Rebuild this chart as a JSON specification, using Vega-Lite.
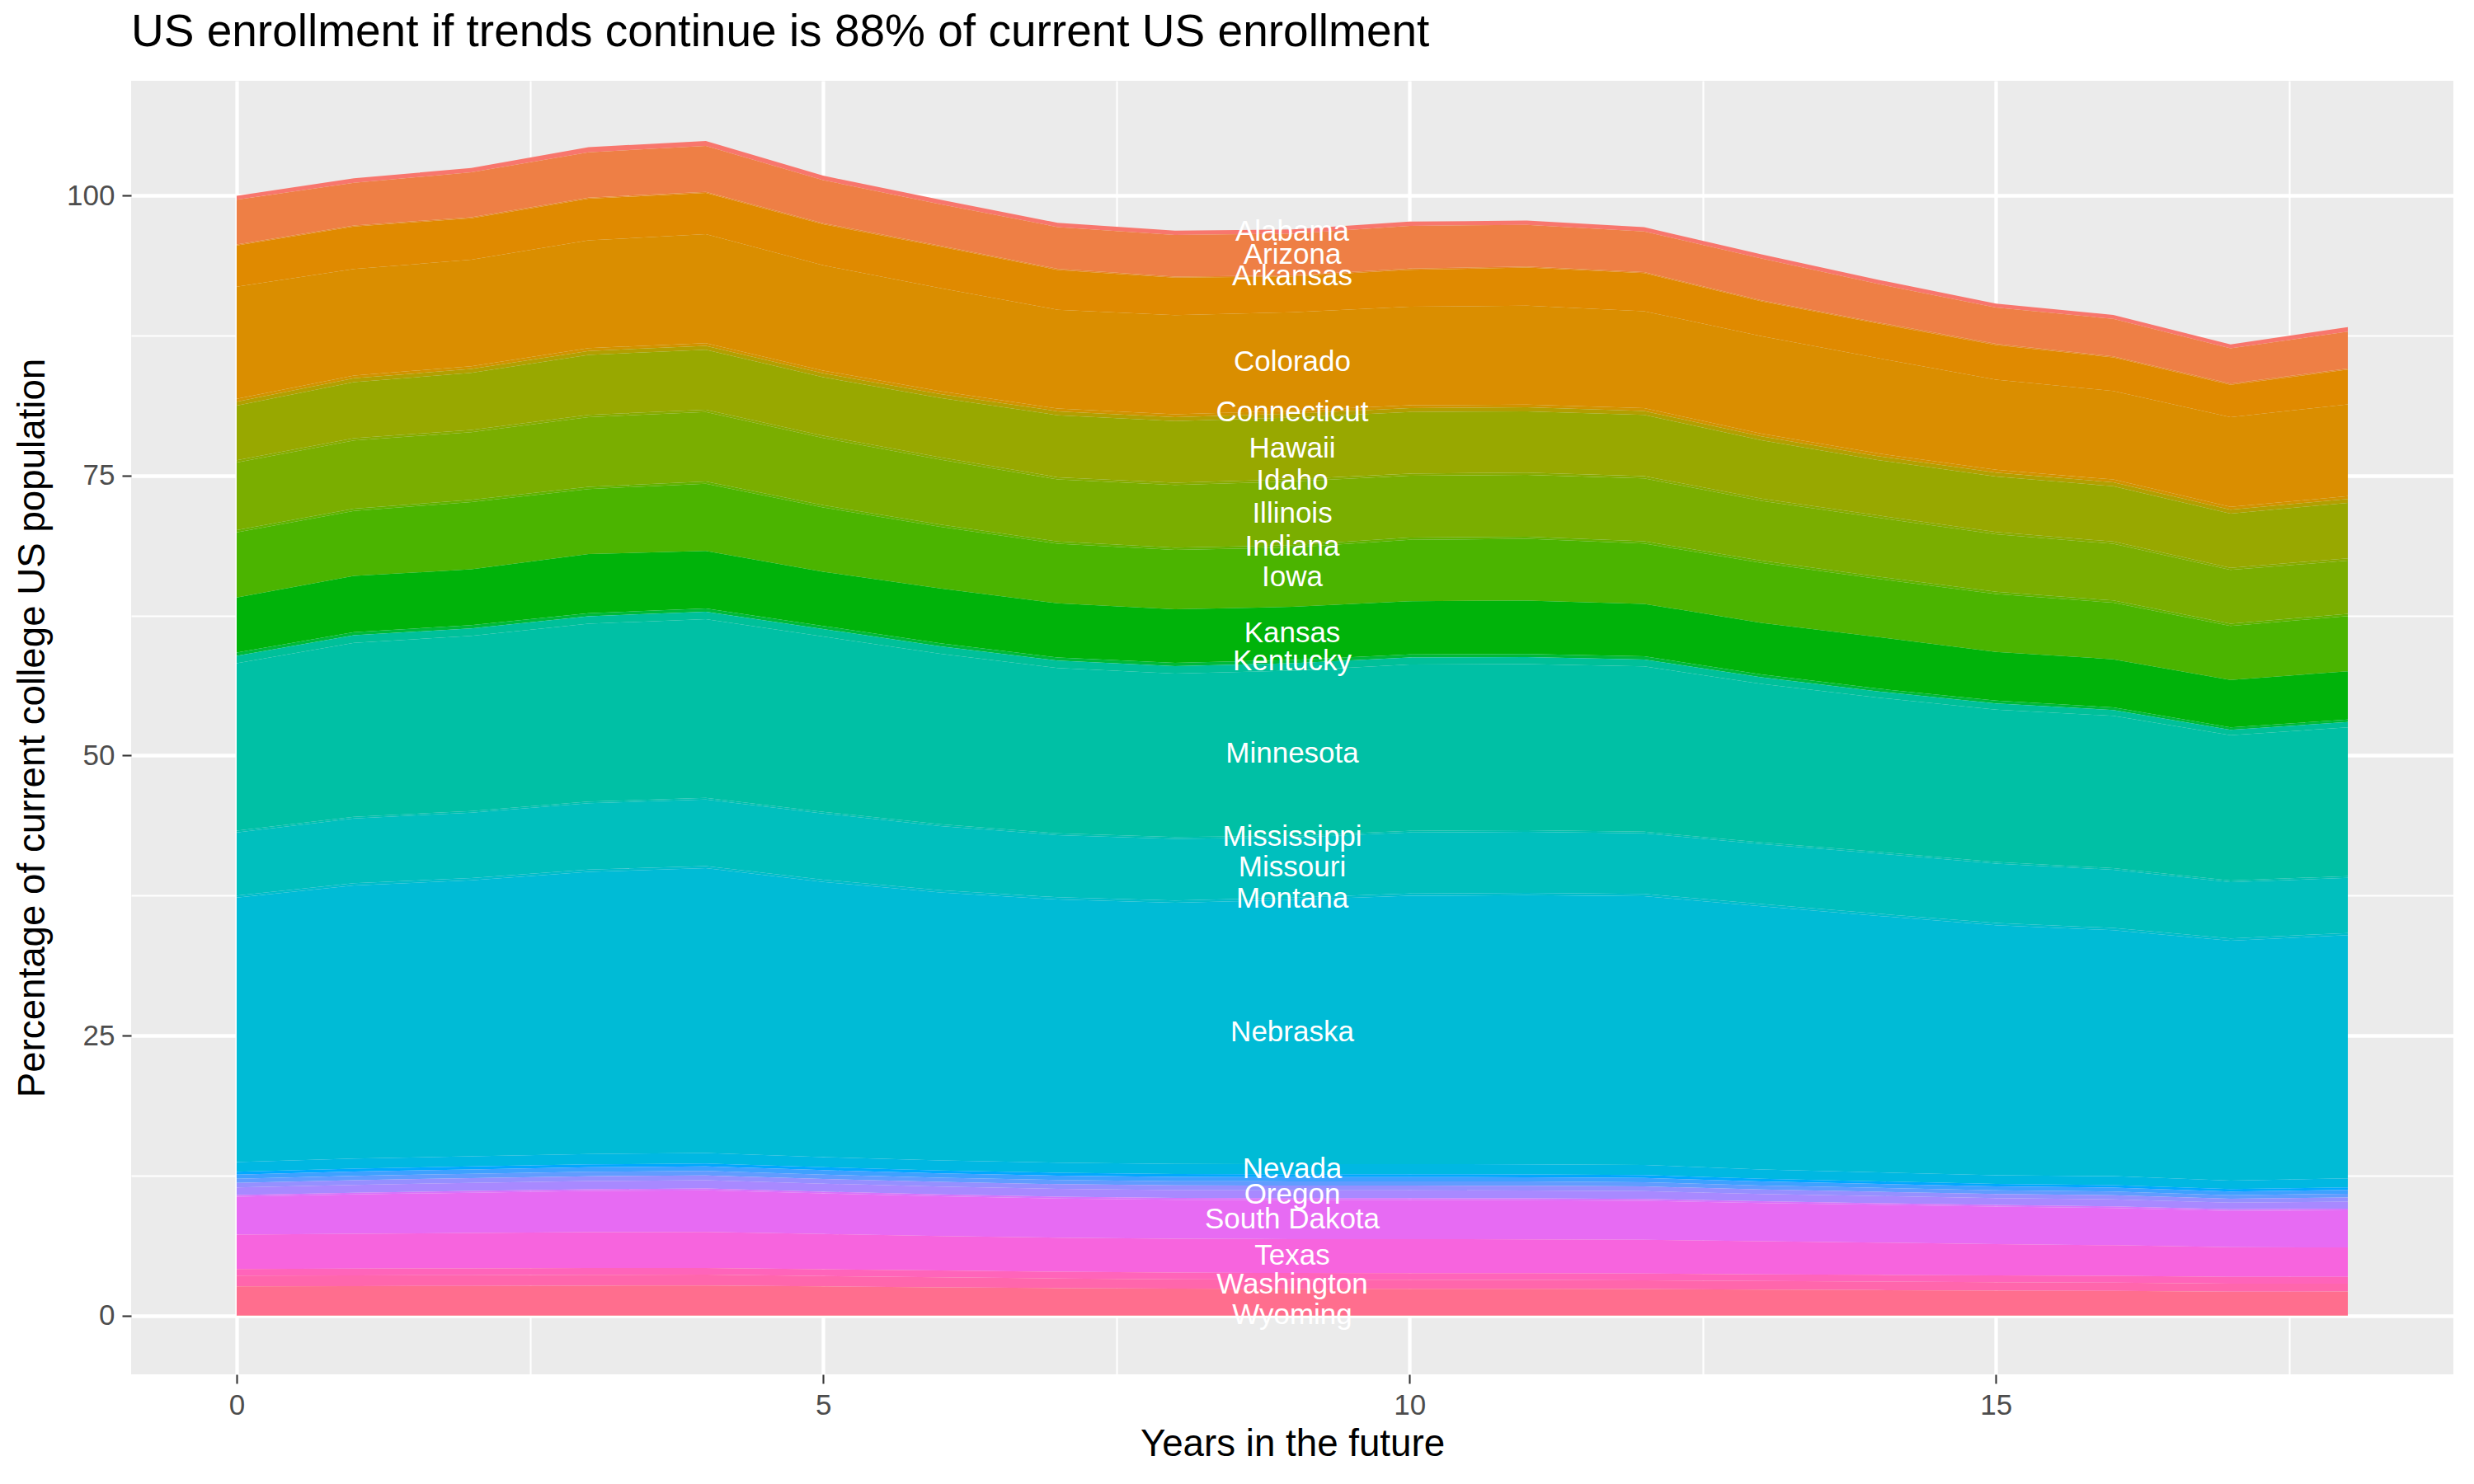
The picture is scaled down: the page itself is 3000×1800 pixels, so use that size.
{
  "$schema": "https://vega.github.io/schema/vega-lite/v6.json",
  "width": 2816,
  "height": 1569,
  "autosize": {"type": "none"},
  "padding": {"left": 159, "top": 98, "right": 25, "bottom": 133},
  "background": "#FFFFFF",
  "config": {
    "view": {"fill": "#EBEBEB", "stroke": null},
    "font": "Liberation Sans",
    "axis": {
      "domain": false,
      "gridColor": "#FFFFFF",
      "tickColor": "#333333",
      "tickSize": 11,
      "tickWidth": 2.1,
      "labelColor": "#4D4D4D",
      "labelFont": "Liberation Sans",
      "labelFontSize": 35,
      "labelPadding": 9,
      "titleFont": "Liberation Sans",
      "titleFontSize": 45.7,
      "titleFontWeight": "normal",
      "titleColor": "#000000"
    }
  },
  "title": {
    "text": "US enrollment if trends continue is 88% of current US enrollment",
    "anchor": "start",
    "frame": "group",
    "font": "Liberation Sans",
    "fontSize": 55,
    "fontWeight": "normal",
    "color": "#000000",
    "baseline": "alphabetic",
    "offset": -13
  },
  "data": {
    "values": [
      {"state": "Alabama", "year": 0, "pct": 0.35}, {"state": "Alabama", "year": 1, "pct": 0.4}, {"state": "Alabama", "year": 2, "pct": 0.4}, {"state": "Alabama", "year": 3, "pct": 0.45}, {"state": "Alabama", "year": 4, "pct": 0.45}, {"state": "Alabama", "year": 5, "pct": 0.4}, {"state": "Alabama", "year": 6, "pct": 0.4}, {"state": "Alabama", "year": 7, "pct": 0.38}, {"state": "Alabama", "year": 8, "pct": 0.38}, {"state": "Alabama", "year": 9, "pct": 0.38}, {"state": "Alabama", "year": 10, "pct": 0.38}, {"state": "Alabama", "year": 11, "pct": 0.38}, {"state": "Alabama", "year": 12, "pct": 0.38}, {"state": "Alabama", "year": 13, "pct": 0.37}, {"state": "Alabama", "year": 14, "pct": 0.37}, {"state": "Alabama", "year": 15, "pct": 0.36}, {"state": "Alabama", "year": 16, "pct": 0.36}, {"state": "Alabama", "year": 17, "pct": 0.35}, {"state": "Alabama", "year": 18, "pct": 0.4},
      {"state": "Arizona", "year": 0, "pct": 4.0}, {"state": "Arizona", "year": 1, "pct": 3.8}, {"state": "Arizona", "year": 2, "pct": 4.0}, {"state": "Arizona", "year": 3, "pct": 4.05}, {"state": "Arizona", "year": 4, "pct": 4.1}, {"state": "Arizona", "year": 5, "pct": 3.84}, {"state": "Arizona", "year": 6, "pct": 3.7}, {"state": "Arizona", "year": 7, "pct": 3.73}, {"state": "Arizona", "year": 8, "pct": 3.72}, {"state": "Arizona", "year": 9, "pct": 3.72}, {"state": "Arizona", "year": 10, "pct": 3.82}, {"state": "Arizona", "year": 11, "pct": 3.72}, {"state": "Arizona", "year": 12, "pct": 3.62}, {"state": "Arizona", "year": 13, "pct": 3.73}, {"state": "Arizona", "year": 14, "pct": 3.43}, {"state": "Arizona", "year": 15, "pct": 3.24}, {"state": "Arizona", "year": 16, "pct": 3.34}, {"state": "Arizona", "year": 17, "pct": 3.15}, {"state": "Arizona", "year": 18, "pct": 3.3},
      {"state": "Arkansas", "year": 0, "pct": 0.1}, {"state": "Arkansas", "year": 1, "pct": 0.1}, {"state": "Arkansas", "year": 2, "pct": 0.1}, {"state": "Arkansas", "year": 3, "pct": 0.1}, {"state": "Arkansas", "year": 4, "pct": 0.1}, {"state": "Arkansas", "year": 5, "pct": 0.1}, {"state": "Arkansas", "year": 6, "pct": 0.1}, {"state": "Arkansas", "year": 7, "pct": 0.1}, {"state": "Arkansas", "year": 8, "pct": 0.1}, {"state": "Arkansas", "year": 9, "pct": 0.1}, {"state": "Arkansas", "year": 10, "pct": 0.1}, {"state": "Arkansas", "year": 11, "pct": 0.1}, {"state": "Arkansas", "year": 12, "pct": 0.1}, {"state": "Arkansas", "year": 13, "pct": 0.1}, {"state": "Arkansas", "year": 14, "pct": 0.1}, {"state": "Arkansas", "year": 15, "pct": 0.1}, {"state": "Arkansas", "year": 16, "pct": 0.1}, {"state": "Arkansas", "year": 17, "pct": 0.1}, {"state": "Arkansas", "year": 18, "pct": 0.1},
      {"state": "California", "year": 0, "pct": 3.67}, {"state": "California", "year": 1, "pct": 3.8}, {"state": "California", "year": 2, "pct": 3.7}, {"state": "California", "year": 3, "pct": 3.72}, {"state": "California", "year": 4, "pct": 3.68}, {"state": "California", "year": 5, "pct": 3.66}, {"state": "California", "year": 6, "pct": 3.7}, {"state": "California", "year": 7, "pct": 3.55}, {"state": "California", "year": 8, "pct": 3.35}, {"state": "California", "year": 9, "pct": 3.2}, {"state": "California", "year": 10, "pct": 3.3}, {"state": "California", "year": 11, "pct": 3.4}, {"state": "California", "year": 12, "pct": 3.4}, {"state": "California", "year": 13, "pct": 3.1}, {"state": "California", "year": 14, "pct": 3.1}, {"state": "California", "year": 15, "pct": 3.1}, {"state": "California", "year": 16, "pct": 3.0}, {"state": "California", "year": 17, "pct": 2.9}, {"state": "California", "year": 18, "pct": 3.1},
      {"state": "Colorado", "year": 0, "pct": 10.02}, {"state": "Colorado", "year": 1, "pct": 9.5}, {"state": "Colorado", "year": 2, "pct": 9.5}, {"state": "Colorado", "year": 3, "pct": 9.62}, {"state": "Colorado", "year": 4, "pct": 9.72}, {"state": "Colorado", "year": 5, "pct": 9.4}, {"state": "Colorado", "year": 6, "pct": 9.2}, {"state": "Colorado", "year": 7, "pct": 8.82}, {"state": "Colorado", "year": 8, "pct": 8.85}, {"state": "Colorado", "year": 9, "pct": 8.8}, {"state": "Colorado", "year": 10, "pct": 8.8}, {"state": "Colorado", "year": 11, "pct": 8.83}, {"state": "Colorado", "year": 12, "pct": 8.66}, {"state": "Colorado", "year": 13, "pct": 8.7}, {"state": "Colorado", "year": 14, "pct": 8.5}, {"state": "Colorado", "year": 15, "pct": 8.04}, {"state": "Colorado", "year": 16, "pct": 7.9}, {"state": "Colorado", "year": 17, "pct": 8.0}, {"state": "Colorado", "year": 18, "pct": 8.2},
      {"state": "Connecticut", "year": 0, "pct": 0.25}, {"state": "Connecticut", "year": 1, "pct": 0.25}, {"state": "Connecticut", "year": 2, "pct": 0.25}, {"state": "Connecticut", "year": 3, "pct": 0.25}, {"state": "Connecticut", "year": 4, "pct": 0.25}, {"state": "Connecticut", "year": 5, "pct": 0.25}, {"state": "Connecticut", "year": 6, "pct": 0.25}, {"state": "Connecticut", "year": 7, "pct": 0.25}, {"state": "Connecticut", "year": 8, "pct": 0.25}, {"state": "Connecticut", "year": 9, "pct": 0.25}, {"state": "Connecticut", "year": 10, "pct": 0.25}, {"state": "Connecticut", "year": 11, "pct": 0.25}, {"state": "Connecticut", "year": 12, "pct": 0.25}, {"state": "Connecticut", "year": 13, "pct": 0.25}, {"state": "Connecticut", "year": 14, "pct": 0.25}, {"state": "Connecticut", "year": 15, "pct": 0.25}, {"state": "Connecticut", "year": 16, "pct": 0.25}, {"state": "Connecticut", "year": 17, "pct": 0.25}, {"state": "Connecticut", "year": 18, "pct": 0.25},
      {"state": "Florida", "year": 0, "pct": 0.35}, {"state": "Florida", "year": 1, "pct": 0.35}, {"state": "Florida", "year": 2, "pct": 0.35}, {"state": "Florida", "year": 3, "pct": 0.35}, {"state": "Florida", "year": 4, "pct": 0.35}, {"state": "Florida", "year": 5, "pct": 0.35}, {"state": "Florida", "year": 6, "pct": 0.35}, {"state": "Florida", "year": 7, "pct": 0.35}, {"state": "Florida", "year": 8, "pct": 0.35}, {"state": "Florida", "year": 9, "pct": 0.35}, {"state": "Florida", "year": 10, "pct": 0.35}, {"state": "Florida", "year": 11, "pct": 0.35}, {"state": "Florida", "year": 12, "pct": 0.35}, {"state": "Florida", "year": 13, "pct": 0.35}, {"state": "Florida", "year": 14, "pct": 0.35}, {"state": "Florida", "year": 15, "pct": 0.35}, {"state": "Florida", "year": 16, "pct": 0.35}, {"state": "Florida", "year": 17, "pct": 0.35}, {"state": "Florida", "year": 18, "pct": 0.35},
      {"state": "Hawaii", "year": 0, "pct": 4.88}, {"state": "Hawaii", "year": 1, "pct": 5.0}, {"state": "Hawaii", "year": 2, "pct": 5.1}, {"state": "Hawaii", "year": 3, "pct": 5.36}, {"state": "Hawaii", "year": 4, "pct": 5.35}, {"state": "Hawaii", "year": 5, "pct": 5.22}, {"state": "Hawaii", "year": 6, "pct": 5.3}, {"state": "Hawaii", "year": 7, "pct": 5.54}, {"state": "Hawaii", "year": 8, "pct": 5.5}, {"state": "Hawaii", "year": 9, "pct": 5.5}, {"state": "Hawaii", "year": 10, "pct": 5.5}, {"state": "Hawaii", "year": 11, "pct": 5.47}, {"state": "Hawaii", "year": 12, "pct": 5.47}, {"state": "Hawaii", "year": 13, "pct": 5.2}, {"state": "Hawaii", "year": 14, "pct": 4.94}, {"state": "Hawaii", "year": 15, "pct": 4.96}, {"state": "Hawaii", "year": 16, "pct": 4.94}, {"state": "Hawaii", "year": 17, "pct": 4.84}, {"state": "Hawaii", "year": 18, "pct": 4.95},
      {"state": "Idaho", "year": 0, "pct": 0.2}, {"state": "Idaho", "year": 1, "pct": 0.2}, {"state": "Idaho", "year": 2, "pct": 0.2}, {"state": "Idaho", "year": 3, "pct": 0.2}, {"state": "Idaho", "year": 4, "pct": 0.2}, {"state": "Idaho", "year": 5, "pct": 0.2}, {"state": "Idaho", "year": 6, "pct": 0.2}, {"state": "Idaho", "year": 7, "pct": 0.2}, {"state": "Idaho", "year": 8, "pct": 0.2}, {"state": "Idaho", "year": 9, "pct": 0.2}, {"state": "Idaho", "year": 10, "pct": 0.2}, {"state": "Idaho", "year": 11, "pct": 0.2}, {"state": "Idaho", "year": 12, "pct": 0.2}, {"state": "Idaho", "year": 13, "pct": 0.2}, {"state": "Idaho", "year": 14, "pct": 0.2}, {"state": "Idaho", "year": 15, "pct": 0.2}, {"state": "Idaho", "year": 16, "pct": 0.2}, {"state": "Idaho", "year": 17, "pct": 0.2}, {"state": "Idaho", "year": 18, "pct": 0.2},
      {"state": "Illinois", "year": 0, "pct": 6.04}, {"state": "Illinois", "year": 1, "pct": 6.1}, {"state": "Illinois", "year": 2, "pct": 6.03}, {"state": "Illinois", "year": 3, "pct": 6.22}, {"state": "Illinois", "year": 4, "pct": 6.2}, {"state": "Illinois", "year": 5, "pct": 6.01}, {"state": "Illinois", "year": 6, "pct": 5.8}, {"state": "Illinois", "year": 7, "pct": 5.54}, {"state": "Illinois", "year": 8, "pct": 5.6}, {"state": "Illinois", "year": 9, "pct": 5.7}, {"state": "Illinois", "year": 10, "pct": 5.51}, {"state": "Illinois", "year": 11, "pct": 5.52}, {"state": "Illinois", "year": 12, "pct": 5.61}, {"state": "Illinois", "year": 13, "pct": 5.35}, {"state": "Illinois", "year": 14, "pct": 5.26}, {"state": "Illinois", "year": 15, "pct": 5.14}, {"state": "Illinois", "year": 16, "pct": 5.06}, {"state": "Illinois", "year": 17, "pct": 4.79}, {"state": "Illinois", "year": 18, "pct": 4.76},
      {"state": "Indiana", "year": 0, "pct": 0.2}, {"state": "Indiana", "year": 1, "pct": 0.2}, {"state": "Indiana", "year": 2, "pct": 0.2}, {"state": "Indiana", "year": 3, "pct": 0.2}, {"state": "Indiana", "year": 4, "pct": 0.2}, {"state": "Indiana", "year": 5, "pct": 0.2}, {"state": "Indiana", "year": 6, "pct": 0.2}, {"state": "Indiana", "year": 7, "pct": 0.2}, {"state": "Indiana", "year": 8, "pct": 0.2}, {"state": "Indiana", "year": 9, "pct": 0.2}, {"state": "Indiana", "year": 10, "pct": 0.2}, {"state": "Indiana", "year": 11, "pct": 0.2}, {"state": "Indiana", "year": 12, "pct": 0.2}, {"state": "Indiana", "year": 13, "pct": 0.2}, {"state": "Indiana", "year": 14, "pct": 0.2}, {"state": "Indiana", "year": 15, "pct": 0.2}, {"state": "Indiana", "year": 16, "pct": 0.2}, {"state": "Indiana", "year": 17, "pct": 0.2}, {"state": "Indiana", "year": 18, "pct": 0.2},
      {"state": "Iowa", "year": 0, "pct": 5.81}, {"state": "Iowa", "year": 1, "pct": 5.8}, {"state": "Iowa", "year": 2, "pct": 6.01}, {"state": "Iowa", "year": 3, "pct": 5.81}, {"state": "Iowa", "year": 4, "pct": 6.0}, {"state": "Iowa", "year": 5, "pct": 5.74}, {"state": "Iowa", "year": 6, "pct": 5.5}, {"state": "Iowa", "year": 7, "pct": 5.32}, {"state": "Iowa", "year": 8, "pct": 5.31}, {"state": "Iowa", "year": 9, "pct": 5.3}, {"state": "Iowa", "year": 10, "pct": 5.49}, {"state": "Iowa", "year": 11, "pct": 5.51}, {"state": "Iowa", "year": 12, "pct": 5.39}, {"state": "Iowa", "year": 13, "pct": 5.35}, {"state": "Iowa", "year": 14, "pct": 5.2}, {"state": "Iowa", "year": 15, "pct": 5.16}, {"state": "Iowa", "year": 16, "pct": 5.05}, {"state": "Iowa", "year": 17, "pct": 4.82}, {"state": "Iowa", "year": 18, "pct": 4.92},
      {"state": "Kansas", "year": 0, "pct": 4.93}, {"state": "Kansas", "year": 1, "pct": 5.02}, {"state": "Kansas", "year": 2, "pct": 4.99}, {"state": "Kansas", "year": 3, "pct": 5.27}, {"state": "Kansas", "year": 4, "pct": 5.15}, {"state": "Kansas", "year": 5, "pct": 4.83}, {"state": "Kansas", "year": 6, "pct": 4.9}, {"state": "Kansas", "year": 7, "pct": 4.83}, {"state": "Kansas", "year": 8, "pct": 4.79}, {"state": "Kansas", "year": 9, "pct": 4.75}, {"state": "Kansas", "year": 10, "pct": 4.75}, {"state": "Kansas", "year": 11, "pct": 4.77}, {"state": "Kansas", "year": 12, "pct": 4.69}, {"state": "Kansas", "year": 13, "pct": 4.6}, {"state": "Kansas", "year": 14, "pct": 4.6}, {"state": "Kansas", "year": 15, "pct": 4.35}, {"state": "Kansas", "year": 16, "pct": 4.3}, {"state": "Kansas", "year": 17, "pct": 4.25}, {"state": "Kansas", "year": 18, "pct": 4.31},
      {"state": "Kentucky", "year": 0, "pct": 0.28}, {"state": "Kentucky", "year": 1, "pct": 0.28}, {"state": "Kentucky", "year": 2, "pct": 0.28}, {"state": "Kentucky", "year": 3, "pct": 0.28}, {"state": "Kentucky", "year": 4, "pct": 0.28}, {"state": "Kentucky", "year": 5, "pct": 0.28}, {"state": "Kentucky", "year": 6, "pct": 0.28}, {"state": "Kentucky", "year": 7, "pct": 0.28}, {"state": "Kentucky", "year": 8, "pct": 0.28}, {"state": "Kentucky", "year": 9, "pct": 0.28}, {"state": "Kentucky", "year": 10, "pct": 0.28}, {"state": "Kentucky", "year": 11, "pct": 0.28}, {"state": "Kentucky", "year": 12, "pct": 0.28}, {"state": "Kentucky", "year": 13, "pct": 0.26}, {"state": "Kentucky", "year": 14, "pct": 0.25}, {"state": "Kentucky", "year": 15, "pct": 0.25}, {"state": "Kentucky", "year": 16, "pct": 0.23}, {"state": "Kentucky", "year": 17, "pct": 0.22}, {"state": "Kentucky", "year": 18, "pct": 0.22},
      {"state": "Michigan", "year": 0, "pct": 0.67}, {"state": "Michigan", "year": 1, "pct": 0.67}, {"state": "Michigan", "year": 2, "pct": 0.67}, {"state": "Michigan", "year": 3, "pct": 0.67}, {"state": "Michigan", "year": 4, "pct": 0.67}, {"state": "Michigan", "year": 5, "pct": 0.67}, {"state": "Michigan", "year": 6, "pct": 0.67}, {"state": "Michigan", "year": 7, "pct": 0.67}, {"state": "Michigan", "year": 8, "pct": 0.67}, {"state": "Michigan", "year": 9, "pct": 0.67}, {"state": "Michigan", "year": 10, "pct": 0.62}, {"state": "Michigan", "year": 11, "pct": 0.62}, {"state": "Michigan", "year": 12, "pct": 0.62}, {"state": "Michigan", "year": 13, "pct": 0.59}, {"state": "Michigan", "year": 14, "pct": 0.55}, {"state": "Michigan", "year": 15, "pct": 0.55}, {"state": "Michigan", "year": 16, "pct": 0.52}, {"state": "Michigan", "year": 17, "pct": 0.48}, {"state": "Michigan", "year": 18, "pct": 0.48},
      {"state": "Minnesota", "year": 0, "pct": 14.95}, {"state": "Minnesota", "year": 1, "pct": 15.53}, {"state": "Minnesota", "year": 2, "pct": 15.64}, {"state": "Minnesota", "year": 3, "pct": 15.88}, {"state": "Minnesota", "year": 4, "pct": 15.95}, {"state": "Minnesota", "year": 5, "pct": 15.65}, {"state": "Minnesota", "year": 6, "pct": 15.22}, {"state": "Minnesota", "year": 7, "pct": 14.76}, {"state": "Minnesota", "year": 8, "pct": 14.6}, {"state": "Minnesota", "year": 9, "pct": 14.75}, {"state": "Minnesota", "year": 10, "pct": 14.85}, {"state": "Minnesota", "year": 11, "pct": 14.83}, {"state": "Minnesota", "year": 12, "pct": 14.76}, {"state": "Minnesota", "year": 13, "pct": 14.15}, {"state": "Minnesota", "year": 14, "pct": 13.77}, {"state": "Minnesota", "year": 15, "pct": 13.6}, {"state": "Minnesota", "year": 16, "pct": 13.6}, {"state": "Minnesota", "year": 17, "pct": 12.96}, {"state": "Minnesota", "year": 18, "pct": 13.29},
      {"state": "Mississippi", "year": 0, "pct": 0.15}, {"state": "Mississippi", "year": 1, "pct": 0.15}, {"state": "Mississippi", "year": 2, "pct": 0.15}, {"state": "Mississippi", "year": 3, "pct": 0.15}, {"state": "Mississippi", "year": 4, "pct": 0.15}, {"state": "Mississippi", "year": 5, "pct": 0.15}, {"state": "Mississippi", "year": 6, "pct": 0.15}, {"state": "Mississippi", "year": 7, "pct": 0.15}, {"state": "Mississippi", "year": 8, "pct": 0.15}, {"state": "Mississippi", "year": 9, "pct": 0.15}, {"state": "Mississippi", "year": 10, "pct": 0.15}, {"state": "Mississippi", "year": 11, "pct": 0.15}, {"state": "Mississippi", "year": 12, "pct": 0.15}, {"state": "Mississippi", "year": 13, "pct": 0.15}, {"state": "Mississippi", "year": 14, "pct": 0.15}, {"state": "Mississippi", "year": 15, "pct": 0.15}, {"state": "Mississippi", "year": 16, "pct": 0.15}, {"state": "Mississippi", "year": 17, "pct": 0.15}, {"state": "Mississippi", "year": 18, "pct": 0.15},
      {"state": "Missouri", "year": 0, "pct": 5.63}, {"state": "Missouri", "year": 1, "pct": 5.79}, {"state": "Missouri", "year": 2, "pct": 5.83}, {"state": "Missouri", "year": 3, "pct": 5.92}, {"state": "Missouri", "year": 4, "pct": 5.94}, {"state": "Missouri", "year": 5, "pct": 5.91}, {"state": "Missouri", "year": 6, "pct": 5.73}, {"state": "Missouri", "year": 7, "pct": 5.55}, {"state": "Missouri", "year": 8, "pct": 5.51}, {"state": "Missouri", "year": 9, "pct": 5.36}, {"state": "Missouri", "year": 10, "pct": 5.45}, {"state": "Missouri", "year": 11, "pct": 5.45}, {"state": "Missouri", "year": 12, "pct": 5.41}, {"state": "Missouri", "year": 13, "pct": 5.35}, {"state": "Missouri", "year": 14, "pct": 5.37}, {"state": "Missouri", "year": 15, "pct": 5.31}, {"state": "Missouri", "year": 16, "pct": 5.19}, {"state": "Missouri", "year": 17, "pct": 5.02}, {"state": "Missouri", "year": 18, "pct": 4.92},
      {"state": "Montana", "year": 0, "pct": 0.2}, {"state": "Montana", "year": 1, "pct": 0.2}, {"state": "Montana", "year": 2, "pct": 0.2}, {"state": "Montana", "year": 3, "pct": 0.2}, {"state": "Montana", "year": 4, "pct": 0.2}, {"state": "Montana", "year": 5, "pct": 0.2}, {"state": "Montana", "year": 6, "pct": 0.2}, {"state": "Montana", "year": 7, "pct": 0.2}, {"state": "Montana", "year": 8, "pct": 0.2}, {"state": "Montana", "year": 9, "pct": 0.2}, {"state": "Montana", "year": 10, "pct": 0.2}, {"state": "Montana", "year": 11, "pct": 0.2}, {"state": "Montana", "year": 12, "pct": 0.2}, {"state": "Montana", "year": 13, "pct": 0.2}, {"state": "Montana", "year": 14, "pct": 0.2}, {"state": "Montana", "year": 15, "pct": 0.2}, {"state": "Montana", "year": 16, "pct": 0.2}, {"state": "Montana", "year": 17, "pct": 0.2}, {"state": "Montana", "year": 18, "pct": 0.2},
      {"state": "Nebraska", "year": 0, "pct": 23.6}, {"state": "Nebraska", "year": 1, "pct": 24.39}, {"state": "Nebraska", "year": 2, "pct": 24.65}, {"state": "Nebraska", "year": 3, "pct": 25.2}, {"state": "Nebraska", "year": 4, "pct": 25.42}, {"state": "Nebraska", "year": 5, "pct": 24.57}, {"state": "Nebraska", "year": 6, "pct": 23.93}, {"state": "Nebraska", "year": 7, "pct": 23.5}, {"state": "Nebraska", "year": 8, "pct": 23.32}, {"state": "Nebraska", "year": 9, "pct": 23.6}, {"state": "Nebraska", "year": 10, "pct": 23.96}, {"state": "Nebraska", "year": 11, "pct": 24.03}, {"state": "Nebraska", "year": 12, "pct": 23.99}, {"state": "Nebraska", "year": 13, "pct": 23.5}, {"state": "Nebraska", "year": 14, "pct": 22.89}, {"state": "Nebraska", "year": 15, "pct": 22.32}, {"state": "Nebraska", "year": 16, "pct": 21.96}, {"state": "Nebraska", "year": 17, "pct": 21.43}, {"state": "Nebraska", "year": 18, "pct": 21.71},
      {"state": "Nevada", "year": 0, "pct": 0.87}, {"state": "Nevada", "year": 1, "pct": 0.9}, {"state": "Nevada", "year": 2, "pct": 0.91}, {"state": "Nevada", "year": 3, "pct": 0.92}, {"state": "Nevada", "year": 4, "pct": 0.94}, {"state": "Nevada", "year": 5, "pct": 0.91}, {"state": "Nevada", "year": 6, "pct": 0.9}, {"state": "Nevada", "year": 7, "pct": 0.9}, {"state": "Nevada", "year": 8, "pct": 0.9}, {"state": "Nevada", "year": 9, "pct": 0.9}, {"state": "Nevada", "year": 10, "pct": 0.9}, {"state": "Nevada", "year": 11, "pct": 0.9}, {"state": "Nevada", "year": 12, "pct": 0.9}, {"state": "Nevada", "year": 13, "pct": 0.84}, {"state": "Nevada", "year": 14, "pct": 0.81}, {"state": "Nevada", "year": 15, "pct": 0.78}, {"state": "Nevada", "year": 16, "pct": 0.8}, {"state": "Nevada", "year": 17, "pct": 0.76}, {"state": "Nevada", "year": 18, "pct": 0.8},
      {"state": "New York", "year": 0, "pct": 0.25}, {"state": "New York", "year": 1, "pct": 0.26}, {"state": "New York", "year": 2, "pct": 0.26}, {"state": "New York", "year": 3, "pct": 0.26}, {"state": "New York", "year": 4, "pct": 0.27}, {"state": "New York", "year": 5, "pct": 0.26}, {"state": "New York", "year": 6, "pct": 0.26}, {"state": "New York", "year": 7, "pct": 0.26}, {"state": "New York", "year": 8, "pct": 0.26}, {"state": "New York", "year": 9, "pct": 0.26}, {"state": "New York", "year": 10, "pct": 0.26}, {"state": "New York", "year": 11, "pct": 0.26}, {"state": "New York", "year": 12, "pct": 0.26}, {"state": "New York", "year": 13, "pct": 0.24}, {"state": "New York", "year": 14, "pct": 0.23}, {"state": "New York", "year": 15, "pct": 0.22}, {"state": "New York", "year": 16, "pct": 0.23}, {"state": "New York", "year": 17, "pct": 0.22}, {"state": "New York", "year": 18, "pct": 0.23},
      {"state": "North Carolina", "year": 0, "pct": 0.37}, {"state": "North Carolina", "year": 1, "pct": 0.38}, {"state": "North Carolina", "year": 2, "pct": 0.39}, {"state": "North Carolina", "year": 3, "pct": 0.4}, {"state": "North Carolina", "year": 4, "pct": 0.4}, {"state": "North Carolina", "year": 5, "pct": 0.39}, {"state": "North Carolina", "year": 6, "pct": 0.38}, {"state": "North Carolina", "year": 7, "pct": 0.38}, {"state": "North Carolina", "year": 8, "pct": 0.38}, {"state": "North Carolina", "year": 9, "pct": 0.38}, {"state": "North Carolina", "year": 10, "pct": 0.38}, {"state": "North Carolina", "year": 11, "pct": 0.38}, {"state": "North Carolina", "year": 12, "pct": 0.38}, {"state": "North Carolina", "year": 13, "pct": 0.36}, {"state": "North Carolina", "year": 14, "pct": 0.35}, {"state": "North Carolina", "year": 15, "pct": 0.34}, {"state": "North Carolina", "year": 16, "pct": 0.34}, {"state": "North Carolina", "year": 17, "pct": 0.32}, {"state": "North Carolina", "year": 18, "pct": 0.34},
      {"state": "North Dakota", "year": 0, "pct": 0.37}, {"state": "North Dakota", "year": 1, "pct": 0.38}, {"state": "North Dakota", "year": 2, "pct": 0.39}, {"state": "North Dakota", "year": 3, "pct": 0.4}, {"state": "North Dakota", "year": 4, "pct": 0.4}, {"state": "North Dakota", "year": 5, "pct": 0.39}, {"state": "North Dakota", "year": 6, "pct": 0.38}, {"state": "North Dakota", "year": 7, "pct": 0.38}, {"state": "North Dakota", "year": 8, "pct": 0.38}, {"state": "North Dakota", "year": 9, "pct": 0.38}, {"state": "North Dakota", "year": 10, "pct": 0.38}, {"state": "North Dakota", "year": 11, "pct": 0.38}, {"state": "North Dakota", "year": 12, "pct": 0.38}, {"state": "North Dakota", "year": 13, "pct": 0.36}, {"state": "North Dakota", "year": 14, "pct": 0.35}, {"state": "North Dakota", "year": 15, "pct": 0.34}, {"state": "North Dakota", "year": 16, "pct": 0.34}, {"state": "North Dakota", "year": 17, "pct": 0.32}, {"state": "North Dakota", "year": 18, "pct": 0.34},
      {"state": "Oklahoma", "year": 0, "pct": 0.4}, {"state": "Oklahoma", "year": 1, "pct": 0.42}, {"state": "Oklahoma", "year": 2, "pct": 0.42}, {"state": "Oklahoma", "year": 3, "pct": 0.43}, {"state": "Oklahoma", "year": 4, "pct": 0.43}, {"state": "Oklahoma", "year": 5, "pct": 0.42}, {"state": "Oklahoma", "year": 6, "pct": 0.42}, {"state": "Oklahoma", "year": 7, "pct": 0.42}, {"state": "Oklahoma", "year": 8, "pct": 0.42}, {"state": "Oklahoma", "year": 9, "pct": 0.42}, {"state": "Oklahoma", "year": 10, "pct": 0.42}, {"state": "Oklahoma", "year": 11, "pct": 0.42}, {"state": "Oklahoma", "year": 12, "pct": 0.42}, {"state": "Oklahoma", "year": 13, "pct": 0.39}, {"state": "Oklahoma", "year": 14, "pct": 0.38}, {"state": "Oklahoma", "year": 15, "pct": 0.36}, {"state": "Oklahoma", "year": 16, "pct": 0.37}, {"state": "Oklahoma", "year": 17, "pct": 0.35}, {"state": "Oklahoma", "year": 18, "pct": 0.37},
      {"state": "Oregon", "year": 0, "pct": 0.68}, {"state": "Oregon", "year": 1, "pct": 0.7}, {"state": "Oregon", "year": 2, "pct": 0.72}, {"state": "Oregon", "year": 3, "pct": 0.73}, {"state": "Oregon", "year": 4, "pct": 0.73}, {"state": "Oregon", "year": 5, "pct": 0.72}, {"state": "Oregon", "year": 6, "pct": 0.7}, {"state": "Oregon", "year": 7, "pct": 0.7}, {"state": "Oregon", "year": 8, "pct": 0.7}, {"state": "Oregon", "year": 9, "pct": 0.7}, {"state": "Oregon", "year": 10, "pct": 0.7}, {"state": "Oregon", "year": 11, "pct": 0.7}, {"state": "Oregon", "year": 12, "pct": 0.7}, {"state": "Oregon", "year": 13, "pct": 0.66}, {"state": "Oregon", "year": 14, "pct": 0.64}, {"state": "Oregon", "year": 15, "pct": 0.62}, {"state": "Oregon", "year": 16, "pct": 0.63}, {"state": "Oregon", "year": 17, "pct": 0.59}, {"state": "Oregon", "year": 18, "pct": 0.63},
      {"state": "South Carolina", "year": 0, "pct": 0.16}, {"state": "South Carolina", "year": 1, "pct": 0.16}, {"state": "South Carolina", "year": 2, "pct": 0.16}, {"state": "South Carolina", "year": 3, "pct": 0.16}, {"state": "South Carolina", "year": 4, "pct": 0.17}, {"state": "South Carolina", "year": 5, "pct": 0.16}, {"state": "South Carolina", "year": 6, "pct": 0.16}, {"state": "South Carolina", "year": 7, "pct": 0.16}, {"state": "South Carolina", "year": 8, "pct": 0.16}, {"state": "South Carolina", "year": 9, "pct": 0.16}, {"state": "South Carolina", "year": 10, "pct": 0.16}, {"state": "South Carolina", "year": 11, "pct": 0.16}, {"state": "South Carolina", "year": 12, "pct": 0.16}, {"state": "South Carolina", "year": 13, "pct": 0.15}, {"state": "South Carolina", "year": 14, "pct": 0.14}, {"state": "South Carolina", "year": 15, "pct": 0.14}, {"state": "South Carolina", "year": 16, "pct": 0.14}, {"state": "South Carolina", "year": 17, "pct": 0.14}, {"state": "South Carolina", "year": 18, "pct": 0.14},
      {"state": "South Dakota", "year": 0, "pct": 3.39}, {"state": "South Dakota", "year": 1, "pct": 3.5}, {"state": "South Dakota", "year": 2, "pct": 3.6}, {"state": "South Dakota", "year": 3, "pct": 3.68}, {"state": "South Dakota", "year": 4, "pct": 3.72}, {"state": "South Dakota", "year": 5, "pct": 3.62}, {"state": "South Dakota", "year": 6, "pct": 3.55}, {"state": "South Dakota", "year": 7, "pct": 3.5}, {"state": "South Dakota", "year": 8, "pct": 3.48}, {"state": "South Dakota", "year": 9, "pct": 3.49}, {"state": "South Dakota", "year": 10, "pct": 3.5}, {"state": "South Dakota", "year": 11, "pct": 3.5}, {"state": "South Dakota", "year": 12, "pct": 3.48}, {"state": "South Dakota", "year": 13, "pct": 3.42}, {"state": "South Dakota", "year": 14, "pct": 3.38}, {"state": "South Dakota", "year": 15, "pct": 3.35}, {"state": "South Dakota", "year": 16, "pct": 3.32}, {"state": "South Dakota", "year": 17, "pct": 3.25}, {"state": "South Dakota", "year": 18, "pct": 3.31},
      {"state": "Texas", "year": 0, "pct": 3.06}, {"state": "Texas", "year": 1, "pct": 3.12}, {"state": "Texas", "year": 2, "pct": 3.16}, {"state": "Texas", "year": 3, "pct": 3.2}, {"state": "Texas", "year": 4, "pct": 3.21}, {"state": "Texas", "year": 5, "pct": 3.15}, {"state": "Texas", "year": 6, "pct": 3.08}, {"state": "Texas", "year": 7, "pct": 3.04}, {"state": "Texas", "year": 8, "pct": 3.02}, {"state": "Texas", "year": 9, "pct": 3.03}, {"state": "Texas", "year": 10, "pct": 3.03}, {"state": "Texas", "year": 11, "pct": 3.03}, {"state": "Texas", "year": 12, "pct": 3.02}, {"state": "Texas", "year": 13, "pct": 2.95}, {"state": "Texas", "year": 14, "pct": 2.88}, {"state": "Texas", "year": 15, "pct": 2.8}, {"state": "Texas", "year": 16, "pct": 2.74}, {"state": "Texas", "year": 17, "pct": 2.65}, {"state": "Texas", "year": 18, "pct": 2.64},
      {"state": "Virginia", "year": 0, "pct": 0.6}, {"state": "Virginia", "year": 1, "pct": 0.6}, {"state": "Virginia", "year": 2, "pct": 0.6}, {"state": "Virginia", "year": 3, "pct": 0.6}, {"state": "Virginia", "year": 4, "pct": 0.6}, {"state": "Virginia", "year": 5, "pct": 0.6}, {"state": "Virginia", "year": 6, "pct": 0.6}, {"state": "Virginia", "year": 7, "pct": 0.6}, {"state": "Virginia", "year": 8, "pct": 0.6}, {"state": "Virginia", "year": 9, "pct": 0.6}, {"state": "Virginia", "year": 10, "pct": 0.6}, {"state": "Virginia", "year": 11, "pct": 0.6}, {"state": "Virginia", "year": 12, "pct": 0.6}, {"state": "Virginia", "year": 13, "pct": 0.6}, {"state": "Virginia", "year": 14, "pct": 0.6}, {"state": "Virginia", "year": 15, "pct": 0.6}, {"state": "Virginia", "year": 16, "pct": 0.6}, {"state": "Virginia", "year": 17, "pct": 0.6}, {"state": "Virginia", "year": 18, "pct": 0.6},
      {"state": "Washington", "year": 0, "pct": 0.96}, {"state": "Washington", "year": 1, "pct": 0.96}, {"state": "Washington", "year": 2, "pct": 0.96}, {"state": "Washington", "year": 3, "pct": 0.97}, {"state": "Washington", "year": 4, "pct": 0.97}, {"state": "Washington", "year": 5, "pct": 0.93}, {"state": "Washington", "year": 6, "pct": 0.9}, {"state": "Washington", "year": 7, "pct": 0.86}, {"state": "Washington", "year": 8, "pct": 0.83}, {"state": "Washington", "year": 9, "pct": 0.81}, {"state": "Washington", "year": 10, "pct": 0.8}, {"state": "Washington", "year": 11, "pct": 0.8}, {"state": "Washington", "year": 12, "pct": 0.79}, {"state": "Washington", "year": 13, "pct": 0.77}, {"state": "Washington", "year": 14, "pct": 0.76}, {"state": "Washington", "year": 15, "pct": 0.75}, {"state": "Washington", "year": 16, "pct": 0.74}, {"state": "Washington", "year": 17, "pct": 0.72}, {"state": "Washington", "year": 18, "pct": 0.71},
      {"state": "Wisconsin", "year": 0, "pct": 2.55}, {"state": "Wisconsin", "year": 1, "pct": 2.58}, {"state": "Wisconsin", "year": 2, "pct": 2.6}, {"state": "Wisconsin", "year": 3, "pct": 2.62}, {"state": "Wisconsin", "year": 4, "pct": 2.63}, {"state": "Wisconsin", "year": 5, "pct": 2.55}, {"state": "Wisconsin", "year": 6, "pct": 2.47}, {"state": "Wisconsin", "year": 7, "pct": 2.4}, {"state": "Wisconsin", "year": 8, "pct": 2.36}, {"state": "Wisconsin", "year": 9, "pct": 2.34}, {"state": "Wisconsin", "year": 10, "pct": 2.34}, {"state": "Wisconsin", "year": 11, "pct": 2.33}, {"state": "Wisconsin", "year": 12, "pct": 2.31}, {"state": "Wisconsin", "year": 13, "pct": 2.26}, {"state": "Wisconsin", "year": 14, "pct": 2.22}, {"state": "Wisconsin", "year": 15, "pct": 2.18}, {"state": "Wisconsin", "year": 16, "pct": 2.15}, {"state": "Wisconsin", "year": 17, "pct": 2.08}, {"state": "Wisconsin", "year": 18, "pct": 2.09},
      {"state": "Wyoming", "year": 0, "pct": 0.05}, {"state": "Wyoming", "year": 1, "pct": 0.05}, {"state": "Wyoming", "year": 2, "pct": 0.05}, {"state": "Wyoming", "year": 3, "pct": 0.05}, {"state": "Wyoming", "year": 4, "pct": 0.05}, {"state": "Wyoming", "year": 5, "pct": 0.05}, {"state": "Wyoming", "year": 6, "pct": 0.05}, {"state": "Wyoming", "year": 7, "pct": 0.05}, {"state": "Wyoming", "year": 8, "pct": 0.05}, {"state": "Wyoming", "year": 9, "pct": 0.05}, {"state": "Wyoming", "year": 10, "pct": 0.05}, {"state": "Wyoming", "year": 11, "pct": 0.05}, {"state": "Wyoming", "year": 12, "pct": 0.05}, {"state": "Wyoming", "year": 13, "pct": 0.05}, {"state": "Wyoming", "year": 14, "pct": 0.05}, {"state": "Wyoming", "year": 15, "pct": 0.05}, {"state": "Wyoming", "year": 16, "pct": 0.05}, {"state": "Wyoming", "year": 17, "pct": 0.05}, {"state": "Wyoming", "year": 18, "pct": 0.05}
    ]
  },
  "layer": [
    {
      "mark": {"type": "area"},
      "encoding": {
        "x": {
          "field": "year",
          "type": "quantitative",
          "scale": {"domain": [-0.9, 18.9], "nice": false, "zero": false},
          "axis": {"values": [0, 5, 10, 15], "grid": true, "gridWidth": 4.3, "title": "Years in the future", "titlePadding": 7}
        },
        "y": {
          "field": "pct",
          "type": "quantitative",
          "stack": "zero",
          "scale": {"domain": [-5.25, 110.25], "nice": false},
          "axis": {"values": [0, 25, 50, 75, 100], "grid": true, "gridWidth": 4.3, "title": "Percentage of current college US population", "titlePadding": 17}
        },
        "color": {
          "field": "state",
          "type": "nominal",
          "legend": null,
          "scale": {
            "domain": ["Alabama", "Arizona", "Arkansas", "California", "Colorado", "Connecticut", "Florida", "Hawaii", "Idaho", "Illinois", "Indiana", "Iowa", "Kansas", "Kentucky", "Michigan", "Minnesota", "Mississippi", "Missouri", "Montana", "Nebraska", "Nevada", "New York", "North Carolina", "North Dakota", "Oklahoma", "Oregon", "South Carolina", "South Dakota", "Texas", "Virginia", "Washington", "Wisconsin", "Wyoming"],
            "range": ["#F8766D", "#EE7F45", "#E8852C", "#E08A00", "#DA8E00", "#D19300", "#B39F00", "#98A800", "#88AB00", "#7AAE00", "#62B200", "#4BB400", "#00B30A", "#00BA38", "#00C09A", "#00C0A5", "#00C0B0", "#00BFBE", "#00BDCA", "#00BBD6", "#00B8E2", "#00A8FF", "#3EA1FF", "#619CFF", "#9590FF", "#A889FF", "#D873FB", "#E76BF3", "#F764DE", "#FF64BA", "#FF66AC", "#FF6E8E", "#FD7180"]
          }
        },
        "order": {"field": "state", "sort": "descending"}
      }
    },
    {
      "transform": [
        {"stack": "pct", "groupby": ["year"], "sort": [{"field": "state", "order": "descending"}], "as": ["lo", "hi"]},
        {"filter": "datum.year == 9"},
        {"filter": {"field": "state", "oneOf": ["Alabama", "Arizona", "Arkansas", "Colorado", "Connecticut", "Hawaii", "Idaho", "Illinois", "Indiana", "Iowa", "Kansas", "Kentucky", "Minnesota", "Mississippi", "Missouri", "Montana", "Nebraska", "Nevada", "Oregon", "South Dakota", "Texas", "Washington", "Wyoming"]}},
        {"calculate": "(datum.lo + datum.hi) / 2", "as": "mid"}
      ],
      "mark": {"type": "text", "color": "#FFFFFF", "font": "Liberation Sans", "fontSize": 35, "align": "center", "baseline": "middle"},
      "encoding": {
        "x": {
          "field": "year",
          "type": "quantitative",
          "scale": {"domain": [-0.9, 18.9], "nice": false, "zero": false},
          "axis": {"orient": "top", "values": [2.5, 7.5, 12.5, 17.5], "grid": true, "gridWidth": 2.1, "labels": false, "ticks": false, "domain": false, "title": null}
        },
        "y": {
          "field": "mid",
          "type": "quantitative",
          "scale": {"domain": [-5.25, 110.25], "nice": false},
          "axis": {"orient": "right", "values": [12.5, 37.5, 62.5, 87.5], "grid": true, "gridWidth": 2.1, "labels": false, "ticks": false, "domain": false, "title": null}
        },
        "text": {"field": "state"}
      }
    }
  ],
  "resolve": {"axis": {"x": "independent", "y": "independent"}}
}
